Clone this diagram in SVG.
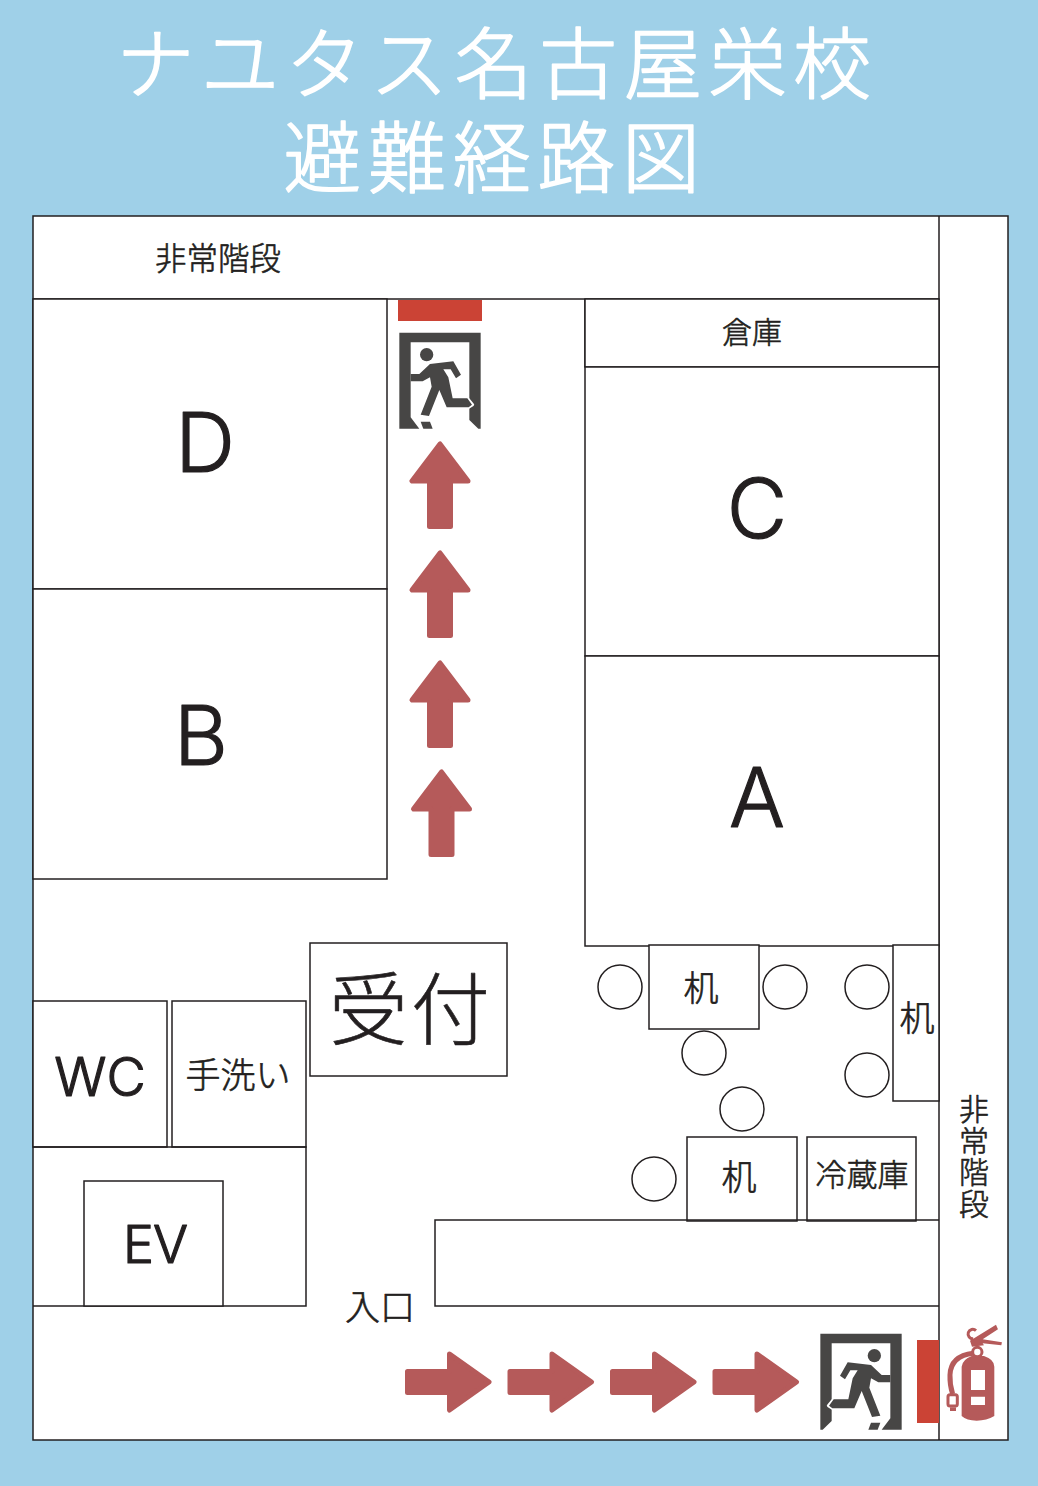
<svg xmlns="http://www.w3.org/2000/svg" xmlns:xlink="http://www.w3.org/1999/xlink" width="1038" height="1486" viewBox="0 0 1038 1486">
<style>
.w{fill:#fff;stroke:#231f20;stroke-width:1.5}
.l{fill:none;stroke:#231f20;stroke-width:1.5}
.c{fill:#fff;stroke:#231f20;stroke-width:1.5}
text{font-family:"Noto Sans CJK JP","Noto Sans",sans-serif;fill:#231f20;stroke:#231f20;stroke-width:.6;stroke-linejoin:round;text-anchor:middle;font-weight:300}
.lat{font-family:Inter,"Noto Sans",sans-serif;stroke-width:1.2;stroke-linecap:round}
.t{fill:#fff;stroke:#fff;stroke-width:1.6;font-size:78px;letter-spacing:6.6px}
.ar{fill:#b55a5a;stroke:#b55a5a;stroke-width:5;stroke-linejoin:round}
.red{fill:#cb4335}
.ic{fill:#474645}
</style>
<defs>
<path id="up" d="M440 444L412 481H429.500V526.500H450.500V481H468Z" class="ar"/>
<path id="right" d="M407.500 1371.500H449.500V1354L489 1382L449.500 1410V1392.500H407.500Z" class="ar"/>
<g id="exit">
<path class="ic" d="M58 128H302V416H295L268 390V157H92V382L118 416H58Z"/>
<path fill="#fff" stroke="#fff" stroke-width="9" stroke-linejoin="round" d="M218 325H262L278 344L266 352H200Z"/>
<path class="ic" d="M92 252H118L150 222L220 214L243 254L228 265L212 238H190L205 262L218 325H262L276 344L266 352H200L178 300L147 378L122 374L155 290L150 262L128 274H92Z"/>
<path class="ic" d="M122 395H150L158 416H130Z"/>
<circle class="ic" cx="140" cy="194" r="20"/>
</g>
</defs>
<rect width="1038" height="1486" fill="#9fd0e8"/>
<g id="title">
<text class="t"><tspan x="497" y="93">ナユタス名古屋栄校</tspan><tspan x="495" y="187">避難経路図</tspan></text>
</g>
<g id="plan">
<rect class="w" x="33" y="216" width="975" height="1224"/>
<path class="l" d="M939 216V1440M33 299H939M585 299V367"/>
</g>
<g id="room-d"><rect class="w" x="33" y="299" width="354" height="290"/><text class="lat" x="205" y="472" font-size="83">D</text></g>
<g id="room-b"><rect class="w" x="33" y="589" width="354" height="290"/><text class="lat" x="201" y="765" font-size="83">B</text></g>
<g id="storage"><rect class="w" x="585" y="299" width="354" height="68"/><text x="752" y="343" font-size="30">倉庫</text></g>
<g id="room-c"><rect class="w" x="585" y="367" width="354" height="289"/><text class="lat" x="757" y="538" font-size="83">C</text></g>
<g id="room-a"><rect class="w" x="585" y="656" width="354" height="290"/><text class="lat" x="757" y="827" font-size="83">A</text></g>
<g id="stairs-top"><text x="218" y="270" font-size="31.500">非常階段</text></g>
<g id="stairs-right"><text x="974" y="1157" font-size="30" writing-mode="vertical-rl" letter-spacing="1.500">非常階段</text></g>
<g id="desk-1"><rect class="w" x="649" y="945" width="110" height="84"/><text x="701" y="1001" font-size="35">机</text></g>
<g id="desk-2"><rect class="w" x="893" y="945" width="46" height="156"/><text x="917" y="1031" font-size="35">机</text></g>
<g id="desk-3"><rect class="w" x="687" y="1137" width="110" height="84"/><text x="739" y="1190" font-size="35">机</text></g>
<g id="fridge"><rect class="w" x="807" y="1137" width="109" height="84"/><text x="862" y="1186" font-size="31">冷蔵庫</text></g>
<g id="chairs">
<circle class="c" cx="620" cy="987" r="22"/>
<circle class="c" cx="785" cy="987" r="22"/>
<circle class="c" cx="867" cy="987" r="22"/>
<circle class="c" cx="704" cy="1053" r="22"/>
<circle class="c" cx="867" cy="1075" r="22"/>
<circle class="c" cx="742" cy="1109" r="22"/>
<circle class="c" cx="654" cy="1179" r="22"/>
</g>
<g id="reception"><rect class="w" x="310" y="943" width="197" height="133"/><text x="411" y="1039" font-size="79" letter-spacing="3">受付</text></g>
<g id="wc"><rect class="w" x="33" y="1001" width="134" height="146"/><text class="lat" x="100" y="1096" font-size="54">WC</text></g>
<g id="wash"><rect class="w" x="172" y="1001" width="134" height="146"/><text x="238" y="1088" font-size="35">手洗い</text></g>
<g id="ev-hall"><path class="l" d="M33 1147H306V1306H33"/></g>
<g id="ev"><rect class="w" x="84" y="1181" width="139" height="125"/><text class="lat" x="155" y="1263" font-size="52" letter-spacing="-1">EV</text></g>
<g id="counter"><path class="l" d="M939 1220H435V1306H939"/></g>
<g id="entrance"><text x="380" y="1320" font-size="35">入口</text></g>
<g id="exit-top">
<rect class="red" x="398" y="300" width="84" height="21"/>
<use xlink:href="#exit" href="#exit" transform="translate(380 290) scale(.3333)"/>
</g>
<g id="exit-bottom">
<rect class="red" x="917" y="1340" width="22" height="83"/>
<use xlink:href="#exit" href="#exit" transform="translate(921 1291) scale(-.3333 .3333)"/>
</g>
<g id="route">
<use href="#up"/>
<use href="#up" y="109"/>
<use href="#up" y="219"/>
<use href="#up" x="1.500" y="328"/>
<use href="#right"/>
<use href="#right" x="102.500"/>
<use href="#right" x="205"/>
<use href="#right" x="307.500"/>
</g>
<g id="extinguisher" transform="translate(800 1310) scale(.3333)" fill="#b55a5a">
<path fill-rule="evenodd" d="M485 170Q488 148 515 138H552Q583 148 583 170V318Q560 332 530 332Q500 332 485 318ZM513 180V240H555V180ZM513 260V285H555V260Z"/>
<circle cx="532" cy="126" r="14" fill="none" stroke="#b55a5a" stroke-width="9"/>
<path d="M510 92L588 44L594 58L548 88L606 97L604 106L548 100L552 106L516 110Z"/>
<path d="M520 86A14 14 0 1 1 528 62" fill="none" stroke="#b55a5a" stroke-width="9"/>
<path d="M520 130Q452 138 450 195Q449 225 458 252" fill="none" stroke="#b55a5a" stroke-width="15"/>
<rect x="444" y="254" width="28" height="34" rx="6" fill="#fff" stroke="#b55a5a" stroke-width="9"/>
<path d="M450 292H468V303H450Z"/>
</g>
</svg>
